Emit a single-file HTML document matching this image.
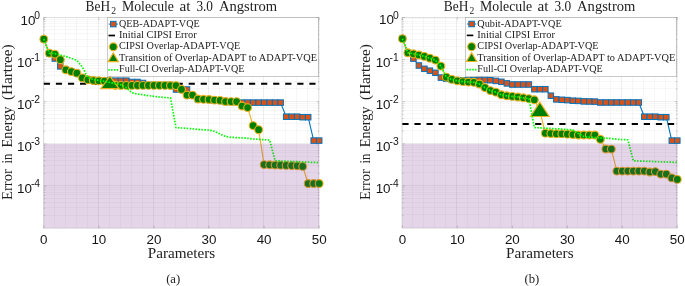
<!DOCTYPE html><html><head><meta charset="utf-8"><title>fig</title><style>html,body{margin:0;padding:0;background:#fff}svg{display:block}</style></head><body><svg width="685" height="286" viewBox="0 0 685 286">
<style>.s{font-family:"Liberation Serif",serif;fill:#222}.h{font-family:"Liberation Sans",sans-serif;fill:#151515}</style>
<rect width="685" height="286" fill="#fff"/>
<path d="M54.5 17.60V228.25M65.5 17.60V228.25M76.5 17.60V228.25M87.5 17.60V228.25M109.5 17.60V228.25M120.5 17.60V228.25M131.5 17.60V228.25M142.5 17.60V228.25M164.5 17.60V228.25M175.5 17.60V228.25M186.5 17.60V228.25M197.5 17.60V228.25M219.5 17.60V228.25M230.5 17.60V228.25M241.5 17.60V228.25M252.5 17.60V228.25M274.5 17.60V228.25M285.5 17.60V228.25M296.5 17.60V228.25M307.5 17.60V228.25M43.80 46.5H319.20M43.80 39.5H319.20M43.80 33.5H319.20M43.80 29.5H319.20M43.80 26.5H319.20M43.80 23.5H319.20M43.80 21.5H319.20M43.80 19.5H319.20M43.80 88.5H319.20M43.80 81.5H319.20M43.80 75.5H319.20M43.80 71.5H319.20M43.80 68.5H319.20M43.80 65.5H319.20M43.80 63.5H319.20M43.80 61.5H319.20M43.80 130.5H319.20M43.80 123.5H319.20M43.80 118.5H319.20M43.80 114.5H319.20M43.80 110.5H319.20M43.80 107.5H319.20M43.80 105.5H319.20M43.80 103.5H319.20M43.80 172.5H319.20M43.80 165.5H319.20M43.80 160.5H319.20M43.80 156.5H319.20M43.80 152.5H319.20M43.80 150.5H319.20M43.80 147.5H319.20M43.80 145.5H319.20M43.80 215.5H319.20M43.80 207.5H319.20M43.80 202.5H319.20M43.80 198.5H319.20M43.80 194.5H319.20M43.80 192.5H319.20M43.80 189.5H319.20M43.80 187.5H319.20" stroke="#262626" stroke-opacity="0.036" stroke-width="1" fill="none"/>
<path d="M43.5 17.60V228.25M98.5 17.60V228.25M153.5 17.60V228.25M208.5 17.60V228.25M263.5 17.60V228.25M318.5 17.60V228.25M43.80 17.5H319.20M43.80 59.5H319.20M43.80 101.5H319.20M43.80 143.5H319.20M43.80 185.5H319.20" stroke="#262626" stroke-opacity="0.075" stroke-width="1" fill="none"/>
<path d="M43.80 17.60V228.25H319.20" stroke="#262626" stroke-opacity="0.16" stroke-width="0.8" fill="none"/>
<path d="M43.80 17.60H319.20V228.25" stroke="#262626" stroke-opacity="0.10" stroke-width="0.8" fill="none"/>
<path d="M43.80 17.60h2.6M319.20 17.60h-2.6M43.80 47.05h1.3M319.20 47.05h-1.3M43.80 39.63h1.3M319.20 39.63h-1.3M43.80 34.37h1.3M319.20 34.37h-1.3M43.80 30.28h1.3M319.20 30.28h-1.3M43.80 26.95h1.3M319.20 26.95h-1.3M43.80 24.13h1.3M319.20 24.13h-1.3M43.80 21.68h1.3M319.20 21.68h-1.3M43.80 19.53h1.3M319.20 19.53h-1.3M43.80 59.73h2.6M319.20 59.73h-2.6M43.80 89.18h1.3M319.20 89.18h-1.3M43.80 81.76h1.3M319.20 81.76h-1.3M43.80 76.50h1.3M319.20 76.50h-1.3M43.80 72.41h1.3M319.20 72.41h-1.3M43.80 69.08h1.3M319.20 69.08h-1.3M43.80 66.26h1.3M319.20 66.26h-1.3M43.80 63.81h1.3M319.20 63.81h-1.3M43.80 61.66h1.3M319.20 61.66h-1.3M43.80 101.86h2.6M319.20 101.86h-2.6M43.80 131.31h1.3M319.20 131.31h-1.3M43.80 123.89h1.3M319.20 123.89h-1.3M43.80 118.63h1.3M319.20 118.63h-1.3M43.80 114.54h1.3M319.20 114.54h-1.3M43.80 111.21h1.3M319.20 111.21h-1.3M43.80 108.39h1.3M319.20 108.39h-1.3M43.80 105.94h1.3M319.20 105.94h-1.3M43.80 103.79h1.3M319.20 103.79h-1.3M43.80 143.99h2.6M319.20 143.99h-2.6M43.80 173.44h1.3M319.20 173.44h-1.3M43.80 166.02h1.3M319.20 166.02h-1.3M43.80 160.76h1.3M319.20 160.76h-1.3M43.80 156.67h1.3M319.20 156.67h-1.3M43.80 153.34h1.3M319.20 153.34h-1.3M43.80 150.52h1.3M319.20 150.52h-1.3M43.80 148.07h1.3M319.20 148.07h-1.3M43.80 145.92h1.3M319.20 145.92h-1.3M43.80 186.12h2.6M319.20 186.12h-2.6M43.80 215.57h1.3M319.20 215.57h-1.3M43.80 208.15h1.3M319.20 208.15h-1.3M43.80 202.89h1.3M319.20 202.89h-1.3M43.80 198.80h1.3M319.20 198.80h-1.3M43.80 195.47h1.3M319.20 195.47h-1.3M43.80 192.65h1.3M319.20 192.65h-1.3M43.80 190.20h1.3M319.20 190.20h-1.3M43.80 188.05h1.3M319.20 188.05h-1.3M43.80 228.25v-2.6M43.80 17.60v2.6M98.88 228.25v-2.6M98.88 17.60v2.6M153.96 228.25v-2.6M153.96 17.60v2.6M209.04 228.25v-2.6M209.04 17.60v2.6M264.12 228.25v-2.6M264.12 17.60v2.6M319.20 228.25v-2.6M319.20 17.60v2.6" stroke="#262626" stroke-opacity="0.35" stroke-width="0.6" fill="none"/>
<polyline points="43.80,39.10 49.31,53.50 54.82,58.50 60.32,66.40 65.83,69.40 71.34,71.50 76.85,73.00 82.36,77.60 87.86,79.50 93.37,80.00 98.88,80.30 104.39,80.60 109.90,80.90 115.40,80.70 120.91,80.70 126.42,80.70 131.93,82.00 137.44,82.00 142.94,83.00 148.45,84.80 153.96,85.00 159.47,85.00 164.98,85.00 170.48,85.00 175.99,89.50 181.50,89.50 187.01,89.50 192.52,95.80 198.02,99.40 203.53,99.70 209.04,99.90 214.55,100.50 220.06,100.80 225.56,101.90 231.07,102.00 236.58,102.00 242.09,102.60 247.60,102.60 253.10,102.60 258.61,102.60 264.12,102.60 269.63,102.60 275.14,102.60 280.64,102.60 286.15,116.70 291.66,116.70 297.17,116.70 302.68,117.20 308.18,117.20 313.69,140.60 319.20,140.60" fill="none" stroke="#0072BD" stroke-width="1.1" stroke-linejoin="round"/>
<rect x="41.05" y="36.35" width="5.5" height="5.5" fill="#D95319" stroke="#0072BD" stroke-width="1.0"/>
<rect x="46.56" y="50.75" width="5.5" height="5.5" fill="#D95319" stroke="#0072BD" stroke-width="1.0"/>
<rect x="52.07" y="55.75" width="5.5" height="5.5" fill="#D95319" stroke="#0072BD" stroke-width="1.0"/>
<rect x="57.57" y="63.65" width="5.5" height="5.5" fill="#D95319" stroke="#0072BD" stroke-width="1.0"/>
<rect x="63.08" y="66.65" width="5.5" height="5.5" fill="#D95319" stroke="#0072BD" stroke-width="1.0"/>
<rect x="68.59" y="68.75" width="5.5" height="5.5" fill="#D95319" stroke="#0072BD" stroke-width="1.0"/>
<rect x="74.10" y="70.25" width="5.5" height="5.5" fill="#D95319" stroke="#0072BD" stroke-width="1.0"/>
<rect x="79.61" y="74.85" width="5.5" height="5.5" fill="#D95319" stroke="#0072BD" stroke-width="1.0"/>
<rect x="85.11" y="76.75" width="5.5" height="5.5" fill="#D95319" stroke="#0072BD" stroke-width="1.0"/>
<rect x="90.62" y="77.25" width="5.5" height="5.5" fill="#D95319" stroke="#0072BD" stroke-width="1.0"/>
<rect x="96.13" y="77.55" width="5.5" height="5.5" fill="#D95319" stroke="#0072BD" stroke-width="1.0"/>
<rect x="101.64" y="77.85" width="5.5" height="5.5" fill="#D95319" stroke="#0072BD" stroke-width="1.0"/>
<rect x="107.15" y="78.15" width="5.5" height="5.5" fill="#D95319" stroke="#0072BD" stroke-width="1.0"/>
<rect x="112.65" y="77.95" width="5.5" height="5.5" fill="#D95319" stroke="#0072BD" stroke-width="1.0"/>
<rect x="118.16" y="77.95" width="5.5" height="5.5" fill="#D95319" stroke="#0072BD" stroke-width="1.0"/>
<rect x="123.67" y="77.95" width="5.5" height="5.5" fill="#D95319" stroke="#0072BD" stroke-width="1.0"/>
<rect x="129.18" y="79.25" width="5.5" height="5.5" fill="#D95319" stroke="#0072BD" stroke-width="1.0"/>
<rect x="134.69" y="79.25" width="5.5" height="5.5" fill="#D95319" stroke="#0072BD" stroke-width="1.0"/>
<rect x="140.19" y="80.25" width="5.5" height="5.5" fill="#D95319" stroke="#0072BD" stroke-width="1.0"/>
<rect x="145.70" y="82.05" width="5.5" height="5.5" fill="#D95319" stroke="#0072BD" stroke-width="1.0"/>
<rect x="151.21" y="82.25" width="5.5" height="5.5" fill="#D95319" stroke="#0072BD" stroke-width="1.0"/>
<rect x="156.72" y="82.25" width="5.5" height="5.5" fill="#D95319" stroke="#0072BD" stroke-width="1.0"/>
<rect x="162.23" y="82.25" width="5.5" height="5.5" fill="#D95319" stroke="#0072BD" stroke-width="1.0"/>
<rect x="167.73" y="82.25" width="5.5" height="5.5" fill="#D95319" stroke="#0072BD" stroke-width="1.0"/>
<rect x="173.24" y="86.75" width="5.5" height="5.5" fill="#D95319" stroke="#0072BD" stroke-width="1.0"/>
<rect x="178.75" y="86.75" width="5.5" height="5.5" fill="#D95319" stroke="#0072BD" stroke-width="1.0"/>
<rect x="184.26" y="86.75" width="5.5" height="5.5" fill="#D95319" stroke="#0072BD" stroke-width="1.0"/>
<rect x="189.77" y="93.05" width="5.5" height="5.5" fill="#D95319" stroke="#0072BD" stroke-width="1.0"/>
<rect x="195.27" y="96.65" width="5.5" height="5.5" fill="#D95319" stroke="#0072BD" stroke-width="1.0"/>
<rect x="200.78" y="96.95" width="5.5" height="5.5" fill="#D95319" stroke="#0072BD" stroke-width="1.0"/>
<rect x="206.29" y="97.15" width="5.5" height="5.5" fill="#D95319" stroke="#0072BD" stroke-width="1.0"/>
<rect x="211.80" y="97.75" width="5.5" height="5.5" fill="#D95319" stroke="#0072BD" stroke-width="1.0"/>
<rect x="217.31" y="98.05" width="5.5" height="5.5" fill="#D95319" stroke="#0072BD" stroke-width="1.0"/>
<rect x="222.81" y="99.15" width="5.5" height="5.5" fill="#D95319" stroke="#0072BD" stroke-width="1.0"/>
<rect x="228.32" y="99.25" width="5.5" height="5.5" fill="#D95319" stroke="#0072BD" stroke-width="1.0"/>
<rect x="233.83" y="99.25" width="5.5" height="5.5" fill="#D95319" stroke="#0072BD" stroke-width="1.0"/>
<rect x="239.34" y="99.85" width="5.5" height="5.5" fill="#D95319" stroke="#0072BD" stroke-width="1.0"/>
<rect x="244.85" y="99.85" width="5.5" height="5.5" fill="#D95319" stroke="#0072BD" stroke-width="1.0"/>
<rect x="250.35" y="99.85" width="5.5" height="5.5" fill="#D95319" stroke="#0072BD" stroke-width="1.0"/>
<rect x="255.86" y="99.85" width="5.5" height="5.5" fill="#D95319" stroke="#0072BD" stroke-width="1.0"/>
<rect x="261.37" y="99.85" width="5.5" height="5.5" fill="#D95319" stroke="#0072BD" stroke-width="1.0"/>
<rect x="266.88" y="99.85" width="5.5" height="5.5" fill="#D95319" stroke="#0072BD" stroke-width="1.0"/>
<rect x="272.39" y="99.85" width="5.5" height="5.5" fill="#D95319" stroke="#0072BD" stroke-width="1.0"/>
<rect x="277.89" y="99.85" width="5.5" height="5.5" fill="#D95319" stroke="#0072BD" stroke-width="1.0"/>
<rect x="283.40" y="113.95" width="5.5" height="5.5" fill="#D95319" stroke="#0072BD" stroke-width="1.0"/>
<rect x="288.91" y="113.95" width="5.5" height="5.5" fill="#D95319" stroke="#0072BD" stroke-width="1.0"/>
<rect x="294.42" y="113.95" width="5.5" height="5.5" fill="#D95319" stroke="#0072BD" stroke-width="1.0"/>
<rect x="299.93" y="114.45" width="5.5" height="5.5" fill="#D95319" stroke="#0072BD" stroke-width="1.0"/>
<rect x="305.43" y="114.45" width="5.5" height="5.5" fill="#D95319" stroke="#0072BD" stroke-width="1.0"/>
<rect x="310.94" y="137.85" width="5.5" height="5.5" fill="#D95319" stroke="#0072BD" stroke-width="1.0"/>
<rect x="316.45" y="137.85" width="5.5" height="5.5" fill="#D95319" stroke="#0072BD" stroke-width="1.0"/>
<path d="M43.80 83.8H319.20" stroke="#000" stroke-width="2" stroke-dasharray="6.2 5.87" fill="none"/>
<polyline points="43.80,39.10 49.31,53.20 54.82,54.10 60.32,59.70 65.83,69.80 71.34,71.60 76.85,73.20 82.36,77.90 87.86,79.80 93.37,80.50 98.88,80.80 104.39,81.10 109.90,83.00 115.40,85.30 120.91,85.40 126.42,85.40 131.93,85.40 137.44,85.40 142.94,85.40 148.45,85.40 153.96,85.40 159.47,85.40 164.98,85.40 170.48,85.50 175.99,85.60 181.50,89.40 187.01,95.10 192.52,95.10 198.02,99.00 203.53,99.30 209.04,99.50 214.55,100.10 220.06,100.40 225.56,101.50 231.07,101.60 236.58,101.60 242.09,106.00 247.60,107.60 253.10,125.60 258.61,129.70 264.12,164.60 269.63,164.80 275.14,165.00 280.64,165.20 286.15,165.40 291.66,165.60 297.17,165.80 302.68,166.40 308.18,183.50 313.69,183.50 319.20,183.50" fill="none" stroke="#EDB120" stroke-width="1.1" stroke-linejoin="round"/>
<circle cx="43.80" cy="39.10" r="3.9" fill="#008000" stroke="#EDB120" stroke-width="1.1"/>
<circle cx="49.31" cy="53.20" r="3.9" fill="#008000" stroke="#EDB120" stroke-width="1.1"/>
<circle cx="54.82" cy="54.10" r="3.9" fill="#008000" stroke="#EDB120" stroke-width="1.1"/>
<circle cx="60.32" cy="59.70" r="3.9" fill="#008000" stroke="#EDB120" stroke-width="1.1"/>
<circle cx="65.83" cy="69.80" r="3.9" fill="#008000" stroke="#EDB120" stroke-width="1.1"/>
<circle cx="71.34" cy="71.60" r="3.9" fill="#008000" stroke="#EDB120" stroke-width="1.1"/>
<circle cx="76.85" cy="73.20" r="3.9" fill="#008000" stroke="#EDB120" stroke-width="1.1"/>
<circle cx="82.36" cy="77.90" r="3.9" fill="#008000" stroke="#EDB120" stroke-width="1.1"/>
<circle cx="87.86" cy="79.80" r="3.9" fill="#008000" stroke="#EDB120" stroke-width="1.1"/>
<circle cx="93.37" cy="80.50" r="3.9" fill="#008000" stroke="#EDB120" stroke-width="1.1"/>
<circle cx="98.88" cy="80.80" r="3.9" fill="#008000" stroke="#EDB120" stroke-width="1.1"/>
<circle cx="104.39" cy="81.10" r="3.9" fill="#008000" stroke="#EDB120" stroke-width="1.1"/>
<circle cx="115.40" cy="85.30" r="3.9" fill="#008000" stroke="#EDB120" stroke-width="1.1"/>
<circle cx="120.91" cy="85.40" r="3.9" fill="#008000" stroke="#EDB120" stroke-width="1.1"/>
<circle cx="126.42" cy="85.40" r="3.9" fill="#008000" stroke="#EDB120" stroke-width="1.1"/>
<circle cx="131.93" cy="85.40" r="3.9" fill="#008000" stroke="#EDB120" stroke-width="1.1"/>
<circle cx="137.44" cy="85.40" r="3.9" fill="#008000" stroke="#EDB120" stroke-width="1.1"/>
<circle cx="142.94" cy="85.40" r="3.9" fill="#008000" stroke="#EDB120" stroke-width="1.1"/>
<circle cx="148.45" cy="85.40" r="3.9" fill="#008000" stroke="#EDB120" stroke-width="1.1"/>
<circle cx="153.96" cy="85.40" r="3.9" fill="#008000" stroke="#EDB120" stroke-width="1.1"/>
<circle cx="159.47" cy="85.40" r="3.9" fill="#008000" stroke="#EDB120" stroke-width="1.1"/>
<circle cx="164.98" cy="85.40" r="3.9" fill="#008000" stroke="#EDB120" stroke-width="1.1"/>
<circle cx="170.48" cy="85.50" r="3.9" fill="#008000" stroke="#EDB120" stroke-width="1.1"/>
<circle cx="175.99" cy="85.60" r="3.9" fill="#008000" stroke="#EDB120" stroke-width="1.1"/>
<circle cx="181.50" cy="89.40" r="3.9" fill="#008000" stroke="#EDB120" stroke-width="1.1"/>
<circle cx="187.01" cy="95.10" r="3.9" fill="#008000" stroke="#EDB120" stroke-width="1.1"/>
<circle cx="192.52" cy="95.10" r="3.9" fill="#008000" stroke="#EDB120" stroke-width="1.1"/>
<circle cx="198.02" cy="99.00" r="3.9" fill="#008000" stroke="#EDB120" stroke-width="1.1"/>
<circle cx="203.53" cy="99.30" r="3.9" fill="#008000" stroke="#EDB120" stroke-width="1.1"/>
<circle cx="209.04" cy="99.50" r="3.9" fill="#008000" stroke="#EDB120" stroke-width="1.1"/>
<circle cx="214.55" cy="100.10" r="3.9" fill="#008000" stroke="#EDB120" stroke-width="1.1"/>
<circle cx="220.06" cy="100.40" r="3.9" fill="#008000" stroke="#EDB120" stroke-width="1.1"/>
<circle cx="225.56" cy="101.50" r="3.9" fill="#008000" stroke="#EDB120" stroke-width="1.1"/>
<circle cx="231.07" cy="101.60" r="3.9" fill="#008000" stroke="#EDB120" stroke-width="1.1"/>
<circle cx="236.58" cy="101.60" r="3.9" fill="#008000" stroke="#EDB120" stroke-width="1.1"/>
<circle cx="242.09" cy="106.00" r="3.9" fill="#008000" stroke="#EDB120" stroke-width="1.1"/>
<circle cx="247.60" cy="107.60" r="3.9" fill="#008000" stroke="#EDB120" stroke-width="1.1"/>
<circle cx="253.10" cy="125.60" r="3.9" fill="#008000" stroke="#EDB120" stroke-width="1.1"/>
<circle cx="258.61" cy="129.70" r="3.9" fill="#008000" stroke="#EDB120" stroke-width="1.1"/>
<circle cx="264.12" cy="164.60" r="3.9" fill="#008000" stroke="#EDB120" stroke-width="1.1"/>
<circle cx="269.63" cy="164.80" r="3.9" fill="#008000" stroke="#EDB120" stroke-width="1.1"/>
<circle cx="275.14" cy="165.00" r="3.9" fill="#008000" stroke="#EDB120" stroke-width="1.1"/>
<circle cx="280.64" cy="165.20" r="3.9" fill="#008000" stroke="#EDB120" stroke-width="1.1"/>
<circle cx="286.15" cy="165.40" r="3.9" fill="#008000" stroke="#EDB120" stroke-width="1.1"/>
<circle cx="291.66" cy="165.60" r="3.9" fill="#008000" stroke="#EDB120" stroke-width="1.1"/>
<circle cx="297.17" cy="165.80" r="3.9" fill="#008000" stroke="#EDB120" stroke-width="1.1"/>
<circle cx="302.68" cy="166.40" r="3.9" fill="#008000" stroke="#EDB120" stroke-width="1.1"/>
<circle cx="308.18" cy="183.50" r="3.9" fill="#008000" stroke="#EDB120" stroke-width="1.1"/>
<circle cx="313.69" cy="183.50" r="3.9" fill="#008000" stroke="#EDB120" stroke-width="1.1"/>
<circle cx="319.20" cy="183.50" r="3.9" fill="#008000" stroke="#EDB120" stroke-width="1.1"/>
<polygon points="109.90,76.10 100.80,88.70 119.00,88.70" fill="#008000" stroke="#EDB120" stroke-width="1.2" stroke-linejoin="miter"/>
<polyline points="43.80,39.10 49.31,53.20 54.82,53.50 60.32,55.00 65.83,56.50 71.34,58.30 76.85,60.30 82.36,67.00 87.86,77.50 93.37,79.50 98.88,80.50 104.39,81.40 109.90,82.50 115.40,83.60 120.91,84.70 126.42,87.90 131.93,92.80 137.44,94.00 142.94,94.80 148.45,95.60 153.96,96.40 159.47,97.00 164.98,97.50 170.48,97.90 175.99,127.60 181.50,128.00 187.01,128.40 192.52,128.80 198.02,129.40 203.53,129.80 209.04,130.10 214.55,131.30 220.06,134.00 225.56,136.50 231.07,137.30 236.58,137.60 242.09,137.90 247.60,138.30 253.10,139.00 258.61,139.30 264.12,139.70 269.63,140.00 275.14,160.80 280.64,161.00 286.15,161.25 291.66,161.50 297.17,161.70 302.68,161.95 308.18,162.20 313.69,162.40 319.20,162.60" fill="none" stroke="#00FF00" stroke-width="1.7" stroke-dasharray="1.55 1.4" stroke-linejoin="round"/>
<rect x="43.80" y="143.99" width="275.40" height="84.26" fill="#7E2F8E" fill-opacity="0.2"/>
<rect x="107.5" y="17.5" width="211.0" height="59" fill="#fff" stroke="#262626" stroke-opacity="0.24" stroke-width="1"/>
<path d="M108.70 24.10h9.2" stroke="#0072BD" stroke-width="1.0"/>
<rect x="110.55" y="21.35" width="5.5" height="5.5" fill="#D95319" stroke="#0072BD" stroke-width="1.0"/>
<path d="M108.50 35.50h6.5" stroke="#000" stroke-width="1.7"/>
<path d="M108.70 46.80h9.2" stroke="#EDB120" stroke-width="1.1"/>
<circle cx="113.30" cy="46.80" r="3.9" fill="#008000" stroke="#EDB120" stroke-width="1.1"/>
<polygon points="113.30,52.90 108.20,61.60 118.40,61.60" fill="#008000" stroke="#EDB120" stroke-width="1.2"/>
<path d="M108.30 69.80h10.2" stroke="#00FF00" stroke-width="1.7" stroke-dasharray="1.5 1.3"/>
<text x="119.05" y="26.80" class="s" font-size="10" textLength="80.6" lengthAdjust="spacingAndGlyphs">QEB-ADAPT-VQE</text>
<text x="119.05" y="38.10" class="s" font-size="10" textLength="77.6" lengthAdjust="spacingAndGlyphs">Initial CIPSI Error</text>
<text x="119.05" y="49.40" class="s" font-size="10" textLength="121.2" lengthAdjust="spacingAndGlyphs">CIPSI Overlap-ADAPT-VQE</text>
<text x="119.05" y="60.70" class="s" font-size="10" textLength="198.0" lengthAdjust="spacingAndGlyphs">Transition of Overlap-ADAPT to ADAPT-VQE</text>
<text x="119.05" y="72.00" class="s" font-size="10" textLength="125.4" lengthAdjust="spacingAndGlyphs">Full-CI Overlap-ADAPT-VQE</text>
<text x="43.80" y="243.65" class="h" font-size="13.4" text-anchor="middle">0</text>
<text x="98.88" y="243.65" class="h" font-size="13.4" text-anchor="middle">10</text>
<text x="153.96" y="243.65" class="h" font-size="13.4" text-anchor="middle">20</text>
<text x="209.04" y="243.65" class="h" font-size="13.4" text-anchor="middle">30</text>
<text x="264.12" y="243.65" class="h" font-size="13.4" text-anchor="middle">40</text>
<text x="319.20" y="243.65" class="h" font-size="13.4" text-anchor="middle">50</text>
<text x="35.37" y="24.50" class="h" font-size="13.4" text-anchor="end">10</text>
<text x="40.10" y="18.60" class="h" font-size="10.3" text-anchor="end">0</text>
<text x="31.94" y="66.63" class="h" font-size="13.4" text-anchor="end">10</text>
<text x="40.10" y="60.73" class="h" font-size="10.3" text-anchor="end">-1</text>
<text x="31.94" y="108.76" class="h" font-size="13.4" text-anchor="end">10</text>
<text x="40.10" y="102.86" class="h" font-size="10.3" text-anchor="end">-2</text>
<text x="31.94" y="150.89" class="h" font-size="13.4" text-anchor="end">10</text>
<text x="40.10" y="144.99" class="h" font-size="10.3" text-anchor="end">-3</text>
<text x="31.94" y="193.02" class="h" font-size="13.4" text-anchor="end">10</text>
<text x="40.10" y="187.12" class="h" font-size="10.3" text-anchor="end">-4</text>
<text x="147.75" y="257.85" class="s" font-size="14" textLength="67.5" lengthAdjust="spacingAndGlyphs">Parameters</text>
<text x="85.60" y="11.40" class="s" font-size="14.1" textLength="24.5" lengthAdjust="spacingAndGlyphs">BeH</text>
<text x="111.20" y="13.80" class="s" font-size="9.6" textLength="4.8" lengthAdjust="spacingAndGlyphs">2</text>
<text x="121.90" y="11.40" class="s" font-size="14.1" textLength="52.1" lengthAdjust="spacingAndGlyphs">Molecule</text>
<text x="179.40" y="11.40" class="s" font-size="14.1" textLength="11.0" lengthAdjust="spacingAndGlyphs">at</text>
<text x="196.40" y="11.40" class="s" font-size="14.1" textLength="16.6" lengthAdjust="spacingAndGlyphs">3.0</text>
<text x="218.90" y="11.40" class="s" font-size="14.1" textLength="58.3" lengthAdjust="spacingAndGlyphs">Angstrom</text>
<g transform="translate(11.75,200.00) rotate(-90)">
<text x="0" y="0" class="s" font-size="14" textLength="30.9" lengthAdjust="spacingAndGlyphs">Error</text>
<text x="36.5" y="0" class="s" font-size="14" textLength="9.8" lengthAdjust="spacingAndGlyphs">in</text>
<text x="52.6" y="0" class="s" font-size="14" textLength="40.8" lengthAdjust="spacingAndGlyphs">Energy</text>
<text x="100.0" y="0" class="s" font-size="14" textLength="55.6" lengthAdjust="spacingAndGlyphs">(Hartree)</text>
</g>
<text x="173.20" y="282.8" class="s" font-size="12.7" text-anchor="middle">(a)</text>
<path d="M412.5 17.50V228.10M423.5 17.50V228.10M434.5 17.50V228.10M445.5 17.50V228.10M467.5 17.50V228.10M478.5 17.50V228.10M489.5 17.50V228.10M500.5 17.50V228.10M522.5 17.50V228.10M533.5 17.50V228.10M544.5 17.50V228.10M555.5 17.50V228.10M577.5 17.50V228.10M588.5 17.50V228.10M599.5 17.50V228.10M610.5 17.50V228.10M632.5 17.50V228.10M643.5 17.50V228.10M654.5 17.50V228.10M665.5 17.50V228.10M402.40 46.5H677.30M402.40 39.5H677.30M402.40 33.5H677.30M402.40 29.5H677.30M402.40 26.5H677.30M402.40 23.5H677.30M402.40 21.5H677.30M402.40 18.5H677.30M402.40 88.5H677.30M402.40 81.5H677.30M402.40 75.5H677.30M402.40 71.5H677.30M402.40 68.5H677.30M402.40 65.5H677.30M402.40 63.5H677.30M402.40 61.5H677.30M402.40 130.5H677.30M402.40 123.5H677.30M402.40 118.5H677.30M402.40 113.5H677.30M402.40 110.5H677.30M402.40 107.5H677.30M402.40 105.5H677.30M402.40 103.5H677.30M402.40 172.5H677.30M402.40 165.5H677.30M402.40 160.5H677.30M402.40 156.5H677.30M402.40 152.5H677.30M402.40 149.5H677.30M402.40 147.5H677.30M402.40 145.5H677.30M402.40 214.5H677.30M402.40 207.5H677.30M402.40 202.5H677.30M402.40 198.5H677.30M402.40 194.5H677.30M402.40 192.5H677.30M402.40 189.5H677.30M402.40 187.5H677.30" stroke="#262626" stroke-opacity="0.036" stroke-width="1" fill="none"/>
<path d="M401.5 17.50V228.10M456.5 17.50V228.10M511.5 17.50V228.10M566.5 17.50V228.10M621.5 17.50V228.10M676.5 17.50V228.10M402.40 17.5H677.30M402.40 59.5H677.30M402.40 101.5H677.30M402.40 143.5H677.30M402.40 185.5H677.30" stroke="#262626" stroke-opacity="0.075" stroke-width="1" fill="none"/>
<path d="M402.40 17.50V228.10H677.30" stroke="#262626" stroke-opacity="0.16" stroke-width="0.8" fill="none"/>
<path d="M402.40 17.50H677.30V228.10" stroke="#262626" stroke-opacity="0.10" stroke-width="0.8" fill="none"/>
<path d="M402.40 17.50h2.6M677.30 17.50h-2.6M402.40 46.94h1.3M677.30 46.94h-1.3M402.40 39.52h1.3M677.30 39.52h-1.3M402.40 34.26h1.3M677.30 34.26h-1.3M402.40 30.18h1.3M677.30 30.18h-1.3M402.40 26.84h1.3M677.30 26.84h-1.3M402.40 24.02h1.3M677.30 24.02h-1.3M402.40 21.58h1.3M677.30 21.58h-1.3M402.40 19.43h1.3M677.30 19.43h-1.3M402.40 59.62h2.6M677.30 59.62h-2.6M402.40 89.06h1.3M677.30 89.06h-1.3M402.40 81.64h1.3M677.30 81.64h-1.3M402.40 76.38h1.3M677.30 76.38h-1.3M402.40 72.30h1.3M677.30 72.30h-1.3M402.40 68.96h1.3M677.30 68.96h-1.3M402.40 66.14h1.3M677.30 66.14h-1.3M402.40 63.70h1.3M677.30 63.70h-1.3M402.40 61.55h1.3M677.30 61.55h-1.3M402.40 101.74h2.6M677.30 101.74h-2.6M402.40 131.18h1.3M677.30 131.18h-1.3M402.40 123.76h1.3M677.30 123.76h-1.3M402.40 118.50h1.3M677.30 118.50h-1.3M402.40 114.42h1.3M677.30 114.42h-1.3M402.40 111.08h1.3M677.30 111.08h-1.3M402.40 108.26h1.3M677.30 108.26h-1.3M402.40 105.82h1.3M677.30 105.82h-1.3M402.40 103.67h1.3M677.30 103.67h-1.3M402.40 143.86h2.6M677.30 143.86h-2.6M402.40 173.30h1.3M677.30 173.30h-1.3M402.40 165.88h1.3M677.30 165.88h-1.3M402.40 160.62h1.3M677.30 160.62h-1.3M402.40 156.54h1.3M677.30 156.54h-1.3M402.40 153.20h1.3M677.30 153.20h-1.3M402.40 150.38h1.3M677.30 150.38h-1.3M402.40 147.94h1.3M677.30 147.94h-1.3M402.40 145.79h1.3M677.30 145.79h-1.3M402.40 185.98h2.6M677.30 185.98h-2.6M402.40 215.42h1.3M677.30 215.42h-1.3M402.40 208.00h1.3M677.30 208.00h-1.3M402.40 202.74h1.3M677.30 202.74h-1.3M402.40 198.66h1.3M677.30 198.66h-1.3M402.40 195.32h1.3M677.30 195.32h-1.3M402.40 192.50h1.3M677.30 192.50h-1.3M402.40 190.06h1.3M677.30 190.06h-1.3M402.40 187.91h1.3M677.30 187.91h-1.3M402.40 228.10v-2.6M402.40 17.50v2.6M457.38 228.10v-2.6M457.38 17.50v2.6M512.36 228.10v-2.6M512.36 17.50v2.6M567.34 228.10v-2.6M567.34 17.50v2.6M622.32 228.10v-2.6M622.32 17.50v2.6M677.30 228.10v-2.6M677.30 17.50v2.6" stroke="#262626" stroke-opacity="0.35" stroke-width="0.6" fill="none"/>
<polyline points="402.40,38.70 407.90,53.00 413.40,58.60 418.89,65.50 424.39,68.80 429.89,70.70 435.39,72.80 440.89,77.60 446.38,78.80 451.88,79.80 457.38,80.20 462.88,80.30 468.38,80.30 473.87,80.30 479.37,79.90 484.87,80.00 490.37,80.20 495.87,80.90 501.36,81.80 506.86,83.40 512.36,84.50 517.86,84.50 523.36,84.50 528.85,84.50 534.35,89.20 539.85,89.20 545.35,89.20 550.85,95.70 556.34,99.40 561.84,99.80 567.34,100.10 572.84,100.70 578.34,100.90 583.83,101.40 589.33,101.50 594.83,101.60 600.33,102.50 605.83,102.50 611.32,102.50 616.82,102.50 622.32,102.50 627.82,102.50 633.32,102.50 638.81,102.50 644.31,116.70 649.81,116.70 655.31,116.70 660.81,117.20 666.30,117.20 671.80,140.60 677.30,140.60" fill="none" stroke="#0072BD" stroke-width="1.1" stroke-linejoin="round"/>
<rect x="399.65" y="35.95" width="5.5" height="5.5" fill="#D95319" stroke="#0072BD" stroke-width="1.0"/>
<rect x="405.15" y="50.25" width="5.5" height="5.5" fill="#D95319" stroke="#0072BD" stroke-width="1.0"/>
<rect x="410.65" y="55.85" width="5.5" height="5.5" fill="#D95319" stroke="#0072BD" stroke-width="1.0"/>
<rect x="416.14" y="62.75" width="5.5" height="5.5" fill="#D95319" stroke="#0072BD" stroke-width="1.0"/>
<rect x="421.64" y="66.05" width="5.5" height="5.5" fill="#D95319" stroke="#0072BD" stroke-width="1.0"/>
<rect x="427.14" y="67.95" width="5.5" height="5.5" fill="#D95319" stroke="#0072BD" stroke-width="1.0"/>
<rect x="432.64" y="70.05" width="5.5" height="5.5" fill="#D95319" stroke="#0072BD" stroke-width="1.0"/>
<rect x="438.14" y="74.85" width="5.5" height="5.5" fill="#D95319" stroke="#0072BD" stroke-width="1.0"/>
<rect x="443.63" y="76.05" width="5.5" height="5.5" fill="#D95319" stroke="#0072BD" stroke-width="1.0"/>
<rect x="449.13" y="77.05" width="5.5" height="5.5" fill="#D95319" stroke="#0072BD" stroke-width="1.0"/>
<rect x="454.63" y="77.45" width="5.5" height="5.5" fill="#D95319" stroke="#0072BD" stroke-width="1.0"/>
<rect x="460.13" y="77.55" width="5.5" height="5.5" fill="#D95319" stroke="#0072BD" stroke-width="1.0"/>
<rect x="465.63" y="77.55" width="5.5" height="5.5" fill="#D95319" stroke="#0072BD" stroke-width="1.0"/>
<rect x="471.12" y="77.55" width="5.5" height="5.5" fill="#D95319" stroke="#0072BD" stroke-width="1.0"/>
<rect x="476.62" y="77.15" width="5.5" height="5.5" fill="#D95319" stroke="#0072BD" stroke-width="1.0"/>
<rect x="482.12" y="77.25" width="5.5" height="5.5" fill="#D95319" stroke="#0072BD" stroke-width="1.0"/>
<rect x="487.62" y="77.45" width="5.5" height="5.5" fill="#D95319" stroke="#0072BD" stroke-width="1.0"/>
<rect x="493.12" y="78.15" width="5.5" height="5.5" fill="#D95319" stroke="#0072BD" stroke-width="1.0"/>
<rect x="498.61" y="79.05" width="5.5" height="5.5" fill="#D95319" stroke="#0072BD" stroke-width="1.0"/>
<rect x="504.11" y="80.65" width="5.5" height="5.5" fill="#D95319" stroke="#0072BD" stroke-width="1.0"/>
<rect x="509.61" y="81.75" width="5.5" height="5.5" fill="#D95319" stroke="#0072BD" stroke-width="1.0"/>
<rect x="515.11" y="81.75" width="5.5" height="5.5" fill="#D95319" stroke="#0072BD" stroke-width="1.0"/>
<rect x="520.61" y="81.75" width="5.5" height="5.5" fill="#D95319" stroke="#0072BD" stroke-width="1.0"/>
<rect x="526.10" y="81.75" width="5.5" height="5.5" fill="#D95319" stroke="#0072BD" stroke-width="1.0"/>
<rect x="531.60" y="86.45" width="5.5" height="5.5" fill="#D95319" stroke="#0072BD" stroke-width="1.0"/>
<rect x="537.10" y="86.45" width="5.5" height="5.5" fill="#D95319" stroke="#0072BD" stroke-width="1.0"/>
<rect x="542.60" y="86.45" width="5.5" height="5.5" fill="#D95319" stroke="#0072BD" stroke-width="1.0"/>
<rect x="548.10" y="92.95" width="5.5" height="5.5" fill="#D95319" stroke="#0072BD" stroke-width="1.0"/>
<rect x="553.59" y="96.65" width="5.5" height="5.5" fill="#D95319" stroke="#0072BD" stroke-width="1.0"/>
<rect x="559.09" y="97.05" width="5.5" height="5.5" fill="#D95319" stroke="#0072BD" stroke-width="1.0"/>
<rect x="564.59" y="97.35" width="5.5" height="5.5" fill="#D95319" stroke="#0072BD" stroke-width="1.0"/>
<rect x="570.09" y="97.95" width="5.5" height="5.5" fill="#D95319" stroke="#0072BD" stroke-width="1.0"/>
<rect x="575.59" y="98.15" width="5.5" height="5.5" fill="#D95319" stroke="#0072BD" stroke-width="1.0"/>
<rect x="581.08" y="98.65" width="5.5" height="5.5" fill="#D95319" stroke="#0072BD" stroke-width="1.0"/>
<rect x="586.58" y="98.75" width="5.5" height="5.5" fill="#D95319" stroke="#0072BD" stroke-width="1.0"/>
<rect x="592.08" y="98.85" width="5.5" height="5.5" fill="#D95319" stroke="#0072BD" stroke-width="1.0"/>
<rect x="597.58" y="99.75" width="5.5" height="5.5" fill="#D95319" stroke="#0072BD" stroke-width="1.0"/>
<rect x="603.08" y="99.75" width="5.5" height="5.5" fill="#D95319" stroke="#0072BD" stroke-width="1.0"/>
<rect x="608.57" y="99.75" width="5.5" height="5.5" fill="#D95319" stroke="#0072BD" stroke-width="1.0"/>
<rect x="614.07" y="99.75" width="5.5" height="5.5" fill="#D95319" stroke="#0072BD" stroke-width="1.0"/>
<rect x="619.57" y="99.75" width="5.5" height="5.5" fill="#D95319" stroke="#0072BD" stroke-width="1.0"/>
<rect x="625.07" y="99.75" width="5.5" height="5.5" fill="#D95319" stroke="#0072BD" stroke-width="1.0"/>
<rect x="630.57" y="99.75" width="5.5" height="5.5" fill="#D95319" stroke="#0072BD" stroke-width="1.0"/>
<rect x="636.06" y="99.75" width="5.5" height="5.5" fill="#D95319" stroke="#0072BD" stroke-width="1.0"/>
<rect x="641.56" y="113.95" width="5.5" height="5.5" fill="#D95319" stroke="#0072BD" stroke-width="1.0"/>
<rect x="647.06" y="113.95" width="5.5" height="5.5" fill="#D95319" stroke="#0072BD" stroke-width="1.0"/>
<rect x="652.56" y="113.95" width="5.5" height="5.5" fill="#D95319" stroke="#0072BD" stroke-width="1.0"/>
<rect x="658.06" y="114.45" width="5.5" height="5.5" fill="#D95319" stroke="#0072BD" stroke-width="1.0"/>
<rect x="663.55" y="114.45" width="5.5" height="5.5" fill="#D95319" stroke="#0072BD" stroke-width="1.0"/>
<rect x="669.05" y="137.85" width="5.5" height="5.5" fill="#D95319" stroke="#0072BD" stroke-width="1.0"/>
<rect x="674.55" y="137.85" width="5.5" height="5.5" fill="#D95319" stroke="#0072BD" stroke-width="1.0"/>
<path d="M402.40 123.9H677.30" stroke="#000" stroke-width="2" stroke-dasharray="6.2 5.87" fill="none"/>
<polyline points="402.40,38.70 407.90,52.80 413.40,53.80 418.89,55.00 424.39,56.40 429.89,58.20 435.39,60.10 440.89,66.10 446.38,77.20 451.88,79.40 457.38,80.80 462.88,81.60 468.38,82.00 473.87,82.30 479.37,84.00 484.87,87.60 490.37,90.60 495.87,92.20 501.36,94.80 506.86,95.80 512.36,96.40 517.86,97.00 523.36,97.80 528.85,98.70 534.35,99.80 539.85,111.00 545.35,133.20 550.85,133.50 556.34,133.80 561.84,133.90 567.34,134.20 572.84,134.50 578.34,135.00 583.83,135.00 589.33,135.00 594.83,135.00 600.33,139.30 605.83,149.00 611.32,149.10 616.82,171.10 622.32,171.10 627.82,171.10 633.32,171.10 638.81,171.10 644.31,171.10 649.81,172.00 655.31,171.60 660.81,174.10 666.30,174.10 671.80,177.90 677.30,179.40" fill="none" stroke="#EDB120" stroke-width="1.1" stroke-linejoin="round"/>
<circle cx="402.40" cy="38.70" r="3.9" fill="#008000" stroke="#EDB120" stroke-width="1.1"/>
<circle cx="407.90" cy="52.80" r="3.9" fill="#008000" stroke="#EDB120" stroke-width="1.1"/>
<circle cx="413.40" cy="53.80" r="3.9" fill="#008000" stroke="#EDB120" stroke-width="1.1"/>
<circle cx="418.89" cy="55.00" r="3.9" fill="#008000" stroke="#EDB120" stroke-width="1.1"/>
<circle cx="424.39" cy="56.40" r="3.9" fill="#008000" stroke="#EDB120" stroke-width="1.1"/>
<circle cx="429.89" cy="58.20" r="3.9" fill="#008000" stroke="#EDB120" stroke-width="1.1"/>
<circle cx="435.39" cy="60.10" r="3.9" fill="#008000" stroke="#EDB120" stroke-width="1.1"/>
<circle cx="440.89" cy="66.10" r="3.9" fill="#008000" stroke="#EDB120" stroke-width="1.1"/>
<circle cx="446.38" cy="77.20" r="3.9" fill="#008000" stroke="#EDB120" stroke-width="1.1"/>
<circle cx="451.88" cy="79.40" r="3.9" fill="#008000" stroke="#EDB120" stroke-width="1.1"/>
<circle cx="457.38" cy="80.80" r="3.9" fill="#008000" stroke="#EDB120" stroke-width="1.1"/>
<circle cx="462.88" cy="81.60" r="3.9" fill="#008000" stroke="#EDB120" stroke-width="1.1"/>
<circle cx="468.38" cy="82.00" r="3.9" fill="#008000" stroke="#EDB120" stroke-width="1.1"/>
<circle cx="473.87" cy="82.30" r="3.9" fill="#008000" stroke="#EDB120" stroke-width="1.1"/>
<circle cx="479.37" cy="84.00" r="3.9" fill="#008000" stroke="#EDB120" stroke-width="1.1"/>
<circle cx="484.87" cy="87.60" r="3.9" fill="#008000" stroke="#EDB120" stroke-width="1.1"/>
<circle cx="490.37" cy="90.60" r="3.9" fill="#008000" stroke="#EDB120" stroke-width="1.1"/>
<circle cx="495.87" cy="92.20" r="3.9" fill="#008000" stroke="#EDB120" stroke-width="1.1"/>
<circle cx="501.36" cy="94.80" r="3.9" fill="#008000" stroke="#EDB120" stroke-width="1.1"/>
<circle cx="506.86" cy="95.80" r="3.9" fill="#008000" stroke="#EDB120" stroke-width="1.1"/>
<circle cx="512.36" cy="96.40" r="3.9" fill="#008000" stroke="#EDB120" stroke-width="1.1"/>
<circle cx="517.86" cy="97.00" r="3.9" fill="#008000" stroke="#EDB120" stroke-width="1.1"/>
<circle cx="523.36" cy="97.80" r="3.9" fill="#008000" stroke="#EDB120" stroke-width="1.1"/>
<circle cx="528.85" cy="98.70" r="3.9" fill="#008000" stroke="#EDB120" stroke-width="1.1"/>
<circle cx="534.35" cy="99.80" r="3.9" fill="#008000" stroke="#EDB120" stroke-width="1.1"/>
<circle cx="545.35" cy="133.20" r="3.9" fill="#008000" stroke="#EDB120" stroke-width="1.1"/>
<circle cx="550.85" cy="133.50" r="3.9" fill="#008000" stroke="#EDB120" stroke-width="1.1"/>
<circle cx="556.34" cy="133.80" r="3.9" fill="#008000" stroke="#EDB120" stroke-width="1.1"/>
<circle cx="561.84" cy="133.90" r="3.9" fill="#008000" stroke="#EDB120" stroke-width="1.1"/>
<circle cx="567.34" cy="134.20" r="3.9" fill="#008000" stroke="#EDB120" stroke-width="1.1"/>
<circle cx="572.84" cy="134.50" r="3.9" fill="#008000" stroke="#EDB120" stroke-width="1.1"/>
<circle cx="578.34" cy="135.00" r="3.9" fill="#008000" stroke="#EDB120" stroke-width="1.1"/>
<circle cx="583.83" cy="135.00" r="3.9" fill="#008000" stroke="#EDB120" stroke-width="1.1"/>
<circle cx="589.33" cy="135.00" r="3.9" fill="#008000" stroke="#EDB120" stroke-width="1.1"/>
<circle cx="594.83" cy="135.00" r="3.9" fill="#008000" stroke="#EDB120" stroke-width="1.1"/>
<circle cx="600.33" cy="139.30" r="3.9" fill="#008000" stroke="#EDB120" stroke-width="1.1"/>
<circle cx="605.83" cy="149.00" r="3.9" fill="#008000" stroke="#EDB120" stroke-width="1.1"/>
<circle cx="611.32" cy="149.10" r="3.9" fill="#008000" stroke="#EDB120" stroke-width="1.1"/>
<circle cx="616.82" cy="171.10" r="3.9" fill="#008000" stroke="#EDB120" stroke-width="1.1"/>
<circle cx="622.32" cy="171.10" r="3.9" fill="#008000" stroke="#EDB120" stroke-width="1.1"/>
<circle cx="627.82" cy="171.10" r="3.9" fill="#008000" stroke="#EDB120" stroke-width="1.1"/>
<circle cx="633.32" cy="171.10" r="3.9" fill="#008000" stroke="#EDB120" stroke-width="1.1"/>
<circle cx="638.81" cy="171.10" r="3.9" fill="#008000" stroke="#EDB120" stroke-width="1.1"/>
<circle cx="644.31" cy="171.10" r="3.9" fill="#008000" stroke="#EDB120" stroke-width="1.1"/>
<circle cx="649.81" cy="172.00" r="3.9" fill="#008000" stroke="#EDB120" stroke-width="1.1"/>
<circle cx="655.31" cy="171.60" r="3.9" fill="#008000" stroke="#EDB120" stroke-width="1.1"/>
<circle cx="660.81" cy="174.10" r="3.9" fill="#008000" stroke="#EDB120" stroke-width="1.1"/>
<circle cx="666.30" cy="174.10" r="3.9" fill="#008000" stroke="#EDB120" stroke-width="1.1"/>
<circle cx="671.80" cy="177.90" r="3.9" fill="#008000" stroke="#EDB120" stroke-width="1.1"/>
<circle cx="677.30" cy="179.40" r="3.9" fill="#008000" stroke="#EDB120" stroke-width="1.1"/>
<polygon points="539.85,102.10 530.55,116.50 549.15,116.50" fill="#008000" stroke="#EDB120" stroke-width="1.2" stroke-linejoin="miter"/>
<polyline points="402.40,38.70 407.90,52.80 413.40,53.80 418.89,55.00 424.39,56.40 429.89,58.20 435.39,60.10 440.89,66.10 446.38,77.20 451.88,79.40 457.38,80.80 462.88,81.60 468.38,82.00 473.87,82.30 479.37,84.00 484.87,87.60 490.37,90.60 495.87,92.20 501.36,94.80 506.86,95.80 512.36,96.40 517.86,97.00 523.36,97.80 528.85,98.70 534.35,127.60 539.85,127.90 545.35,128.20 550.85,128.50 556.34,128.80 561.84,129.10 567.34,129.50 572.84,130.00 578.34,133.50 583.83,136.60 589.33,137.20 594.83,137.60 600.33,137.90 605.83,138.20 611.32,138.50 616.82,139.20 622.32,139.60 627.82,139.80 633.32,160.80 638.81,161.00 644.31,161.20 649.81,161.40 655.31,161.60 660.81,161.80 666.30,162.00 671.80,162.20 677.30,162.40" fill="none" stroke="#00FF00" stroke-width="1.7" stroke-dasharray="1.55 1.4" stroke-linejoin="round"/>
<rect x="402.40" y="143.86" width="274.90" height="84.24" fill="#7E2F8E" fill-opacity="0.2"/>
<rect x="465.5" y="17.5" width="211.0" height="59" fill="#fff" stroke="#262626" stroke-opacity="0.24" stroke-width="1"/>
<path d="M467.00 24.00h9.2" stroke="#0072BD" stroke-width="1.0"/>
<rect x="468.85" y="21.25" width="5.5" height="5.5" fill="#D95319" stroke="#0072BD" stroke-width="1.0"/>
<path d="M466.80 35.40h6.5" stroke="#000" stroke-width="1.7"/>
<path d="M467.00 46.70h9.2" stroke="#EDB120" stroke-width="1.1"/>
<circle cx="471.60" cy="46.70" r="3.9" fill="#008000" stroke="#EDB120" stroke-width="1.1"/>
<polygon points="471.60,52.80 466.50,61.50 476.70,61.50" fill="#008000" stroke="#EDB120" stroke-width="1.2"/>
<path d="M466.60 69.70h10.2" stroke="#00FF00" stroke-width="1.7" stroke-dasharray="1.5 1.3"/>
<text x="477.35" y="26.70" class="s" font-size="10" textLength="84.3" lengthAdjust="spacingAndGlyphs">Qubit-ADAPT-VQE</text>
<text x="477.35" y="38.00" class="s" font-size="10" textLength="77.6" lengthAdjust="spacingAndGlyphs">Initial CIPSI Error</text>
<text x="477.35" y="49.30" class="s" font-size="10" textLength="121.2" lengthAdjust="spacingAndGlyphs">CIPSI Overlap-ADAPT-VQE</text>
<text x="477.35" y="60.60" class="s" font-size="10" textLength="198.0" lengthAdjust="spacingAndGlyphs">Transition of Overlap-ADAPT to ADAPT-VQE</text>
<text x="477.35" y="71.90" class="s" font-size="10" textLength="125.4" lengthAdjust="spacingAndGlyphs">Full-CI Overlap-ADAPT-VQE</text>
<text x="402.40" y="243.50" class="h" font-size="13.4" text-anchor="middle">0</text>
<text x="457.38" y="243.50" class="h" font-size="13.4" text-anchor="middle">10</text>
<text x="512.36" y="243.50" class="h" font-size="13.4" text-anchor="middle">20</text>
<text x="567.34" y="243.50" class="h" font-size="13.4" text-anchor="middle">30</text>
<text x="622.32" y="243.50" class="h" font-size="13.4" text-anchor="middle">40</text>
<text x="677.30" y="243.50" class="h" font-size="13.4" text-anchor="middle">50</text>
<text x="393.97" y="24.40" class="h" font-size="13.4" text-anchor="end">10</text>
<text x="398.70" y="18.50" class="h" font-size="10.3" text-anchor="end">0</text>
<text x="390.54" y="66.52" class="h" font-size="13.4" text-anchor="end">10</text>
<text x="398.70" y="60.62" class="h" font-size="10.3" text-anchor="end">-1</text>
<text x="390.54" y="108.64" class="h" font-size="13.4" text-anchor="end">10</text>
<text x="398.70" y="102.74" class="h" font-size="10.3" text-anchor="end">-2</text>
<text x="390.54" y="150.76" class="h" font-size="13.4" text-anchor="end">10</text>
<text x="398.70" y="144.86" class="h" font-size="10.3" text-anchor="end">-3</text>
<text x="390.54" y="192.88" class="h" font-size="13.4" text-anchor="end">10</text>
<text x="398.70" y="186.98" class="h" font-size="10.3" text-anchor="end">-4</text>
<text x="506.10" y="257.70" class="s" font-size="14" textLength="67.5" lengthAdjust="spacingAndGlyphs">Parameters</text>
<text x="443.80" y="11.40" class="s" font-size="14.1" textLength="24.5" lengthAdjust="spacingAndGlyphs">BeH</text>
<text x="469.40" y="13.80" class="s" font-size="9.6" textLength="4.8" lengthAdjust="spacingAndGlyphs">2</text>
<text x="480.10" y="11.40" class="s" font-size="14.1" textLength="52.1" lengthAdjust="spacingAndGlyphs">Molecule</text>
<text x="537.60" y="11.40" class="s" font-size="14.1" textLength="11.0" lengthAdjust="spacingAndGlyphs">at</text>
<text x="554.60" y="11.40" class="s" font-size="14.1" textLength="16.6" lengthAdjust="spacingAndGlyphs">3.0</text>
<text x="577.10" y="11.40" class="s" font-size="14.1" textLength="58.3" lengthAdjust="spacingAndGlyphs">Angstrom</text>
<g transform="translate(370.20,199.90) rotate(-90)">
<text x="0" y="0" class="s" font-size="14" textLength="30.9" lengthAdjust="spacingAndGlyphs">Error</text>
<text x="36.5" y="0" class="s" font-size="14" textLength="9.8" lengthAdjust="spacingAndGlyphs">in</text>
<text x="52.6" y="0" class="s" font-size="14" textLength="40.8" lengthAdjust="spacingAndGlyphs">Energy</text>
<text x="100.0" y="0" class="s" font-size="14" textLength="55.6" lengthAdjust="spacingAndGlyphs">(Hartree)</text>
</g>
<text x="531.90" y="282.8" class="s" font-size="12.7" text-anchor="middle">(b)</text>
</svg></body></html>
